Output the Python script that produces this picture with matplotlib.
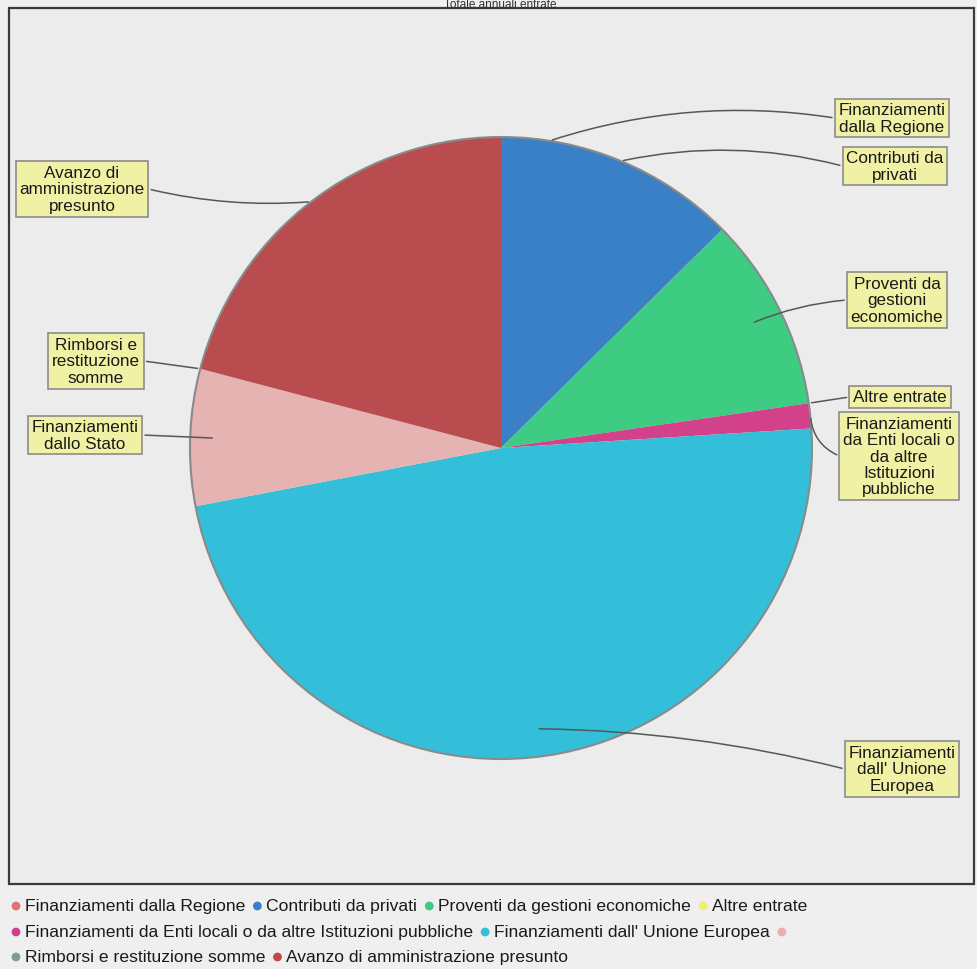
import numpy as np
import matplotlib
matplotlib.use("Agg")
import matplotlib.pyplot as plt
from matplotlib.patches import Rectangle

plt.rcParams['font.family'] = ['Liberation Sans', 'DejaVu Sans']

title = "Totale annuali entrate"
categories = [
    "Finanziamenti dalla Regione",
    "Contributi da privati",
    "Proventi da gestioni economiche",
    "Altre entrate",
    "Finanziamenti da Enti locali o da altre Istituzioni pubbliche",
    "Finanziamenti dall' Unione Europea",
    "Finanziamenti dallo Stato",
    "Rimborsi e restituzione somme",
    "Avanzo di amministrazione presunto",
]
box_labels = [
    "Finanziamenti\ndalla Regione",
    "Contributi da\nprivati",
    "Proventi da\ngestioni\neconomiche",
    "Altre entrate",
    "Finanziamenti\nda Enti locali o\nda altre\nIstituzioni\npubbliche",
    "Finanziamenti\ndall' Unione\nEuropea",
    "Finanziamenti\ndallo Stato",
    "Rimborsi e\nrestituzione\nsomme",
    "Avanzo di\namministrazione\npresunto",
]
# share of total (%)
values = [0.0, 12.6, 10.1, 0.0, 1.3, 48.0, 7.1, 0.0, 20.9]
legend_text = [
    "Finanziamenti dalla Regione",
    "Contributi da privati",
    "Proventi da gestioni economiche",
    "Altre entrate",
    "Finanziamenti da Enti locali o da altre Istituzioni pubbliche",
    "Finanziamenti dall' Unione Europea",
    "",
    "Rimborsi e restituzione somme",
    "Avanzo di amministrazione presunto",
]
slice_colors = ["#e07474", "#3a80c6", "#3ecb82", "#eeee70", "#d2418a",
                "#33bfd9", "#e6b3b3", "#7f9a92", "#b84c4e"]
legend_colors = ["#e07474", "#3a80c6", "#3ecb82", "#eeee70", "#d2418a",
                 "#33bfd9", "#eab0b0", "#7f9a92", "#c04848"]

W, H = 978, 970
fig = plt.figure(figsize=(W / 100, H / 100), dpi=100, facecolor="#efefef")
ax = fig.add_axes([0, 0, 1, 1])
ax.set_xlim(0, W)
ax.set_ylim(0, H)
ax.axis("off")

def Y(py):
    return H - py

# frame
ax.add_patch(Rectangle((9, Y(885)), 965, 876, facecolor="#ececec",
                       edgecolor="#3a3a3a", lw=1.6, zorder=0))
ax.text(500, Y(-1), title, ha="center", va="top", fontsize=8.5, color="#333333")

cx, cy, R = 501, Y(449), 311
wedges, _ = ax.pie(values, colors=slice_colors, startangle=90, counterclock=False,
                   center=(cx, cy), radius=R, frame=False,
                   wedgeprops=dict(edgecolor="none", linewidth=0))
ax.add_patch(plt.Circle((cx, cy), R, fill=False, edgecolor="#8a8a8a", lw=1.5, zorder=3))
ax.set_xlim(0, W)
ax.set_ylim(0, H)
ax.set_aspect("equal")

# label boxes: (center x, center y in pixels, side, anchor radius fraction, curvature)
label_pos = [
    (892, 119, "r", 1.0, 0.12),
    (895, 167, "r", 1.0, 0.12),
    (897, 301, "r", 0.9, 0.08),
    (900, 398, "r", 1.0, 0.0),
    (899, 457, "r", 1.0, -0.3),
    (902, 770, "r", 0.91, 0.06),
    (85, 436, "l", 0.92, 0.0),
    (96, 362, "l", 1.0, 0.0),
    (82, 190, "l", 1.0, 0.08),
]
angles = []
start = 90.0
total = sum(values)
for v in values:
    span = 360.0 * v / total
    angles.append(start - span / 2)
    start -= span

fs = 12.3
for i, (lx, ly, side, rf, rad) in enumerate(label_pos):
    t = ax.text(lx, Y(ly), box_labels[i], ha="center", va="center", fontsize=fs,
                linespacing=1.12, color="#1a1a1a", zorder=6,
                bbox=dict(boxstyle="square,pad=0.22", facecolor="#f1f1a6",
                          edgecolor="#8c8c8c", lw=1.2))
    a = np.deg2rad(angles[i])
    if i == 0:
        a = np.deg2rad(81)
    px = cx + R * rf * np.cos(a)
    py = cy + R * rf * np.sin(a)
    fig.canvas.draw()
    bb = t.get_bbox_patch().get_window_extent().transformed(ax.transData.inverted())
    ex = bb.x0 if side == "r" else bb.x1
    ey = (bb.y0 + bb.y1) / 2
    ax.annotate("", xy=(px, py), xytext=(ex, ey),
                arrowprops=dict(arrowstyle="-", color="#505a5a", lw=1.1,
                                connectionstyle=f"arc3,rad={rad}"), zorder=5)

# legend (flowing rows)
rows = [[0, 1, 2, 3], [4, 5, 6], [7, 8]]
row_y = [907, 933, 958]
lfs = 12.6
renderer = fig.canvas.get_renderer()
for r, idxs in enumerate(rows):
    x = 16
    for i in idxs:
        ax.scatter([x], [Y(row_y[r])], s=40, color=legend_colors[i], zorder=6,
                   edgecolor="none")
        if legend_text[i]:
            t = ax.text(x + 9, Y(row_y[r]), legend_text[i], ha="left", va="center",
                        fontsize=lfs, color="#1a1a1a")
            bb = t.get_window_extent(renderer=renderer)
            x = x + 9 + bb.width + 12
        else:
            x += 20

fig.savefig("out.png", dpi=100, facecolor=fig.get_facecolor())
